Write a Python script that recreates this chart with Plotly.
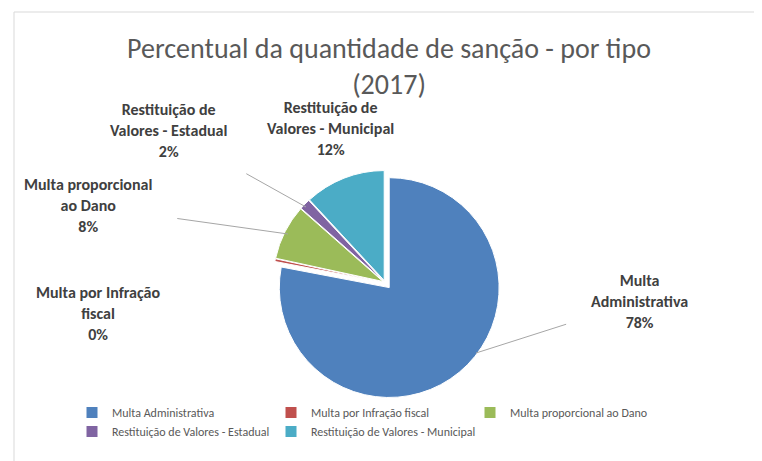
import plotly.graph_objects as go

# Sanction types and their share (%) for 2017
categories = [
    'Multa Administrativa',
    'Multa por Infração fiscal',
    'Multa proporcional ao Dano',
    'Restituição de Valores - Estadual',
    'Restituição de Valores - Municipal',
]
values = [78.0, 0.4, 8.1, 1.6, 11.9]
label_text = [
    'Multa<br>Administrativa',
    'Multa por Infração<br>fiscal',
    'Multa proporcional<br>ao Dano',
    'Restituição de<br>Valores - Estadual',
    'Restituição de<br>Valores - Municipal',
]
colors = ['#4F81BD', '#C0504D', '#9BBB59', '#8064A2', '#4BACC6']

W, H = 762, 461
FONT = 'Carlito, Calibri, Lato, sans-serif'

fig = go.Figure()
fig.add_trace(go.Pie(
    labels=categories, values=values,
    sort=False, direction='clockwise', rotation=0,
    marker=dict(colors=colors, line=dict(color='white', width=1)),
    pull=[0.06, 0.02, 0.02, 0.02, 0.02],
    textinfo='none', hoverinfo='label+percent',
    domain=dict(x=[260 / W, 494 / W], y=[1 - 391 / H, 1 - 158 / H]),
))

# data labels placed like the Excel callouts: (text x, text y, point x, point y) in px
label_pos = [
    (631, 293, 468, 345, 1),
    (90, 305, None, None, 0),
    (80, 198, 280, 226, 1),
    (160, 122, 298, 199, 1),
    (322, 120, 334, 172, 1),
]
total = sum(values)
for txt, v, (tx, ty, px, py, line) in zip(label_text, values, label_pos):
    pct = '%d%%' % round(v / total * 100)
    ann = dict(
        text='<b>%s<br>%s</b>' % (txt, pct), xref='paper', yref='paper',
        font=dict(family=FONT, size=16, color='#404040'), align='center',
    )
    if line:
        ann.update(x=px / W, y=1 - py / H, ax=tx - px, ay=ty - py,
                   showarrow=True, arrowhead=0, arrowwidth=1, arrowcolor='#A6A6A6',
                   standoff=0, startstandoff=24)
    else:
        ann.update(x=tx / W, y=1 - ty / H, xanchor='center', yanchor='middle',
                   showarrow=False)
    fig.add_annotation(**ann)

fig.add_shape(type='rect', xref='paper', yref='paper',
              x0=6 / W, x1=748 / W, y0=1 - 455 / H, y1=1 - 4 / H,
              line=dict(color='#D9D9D9', width=1))

fig.update_layout(
    width=W, height=H,
    margin=dict(l=0, r=0, t=0, b=0),
    paper_bgcolor='white', plot_bgcolor='white',
    title=dict(text='Percentual da quantidade de sanção - por tipo<br>(2017)',
               x=0.5, xanchor='center', y=1 - 50 / H, yanchor='top',
               font=dict(family=FONT, size=28, color='#595959')),
    showlegend=True,
    legend=dict(orientation='h', x=64 / W, y=1 - 390 / H, xanchor='left', yanchor='top',
                entrywidth=154, entrywidthmode='pixels',
                font=dict(family=FONT, size=12, color='#595959'),
                traceorder='normal'),
)

fig.write_html('out.html')
